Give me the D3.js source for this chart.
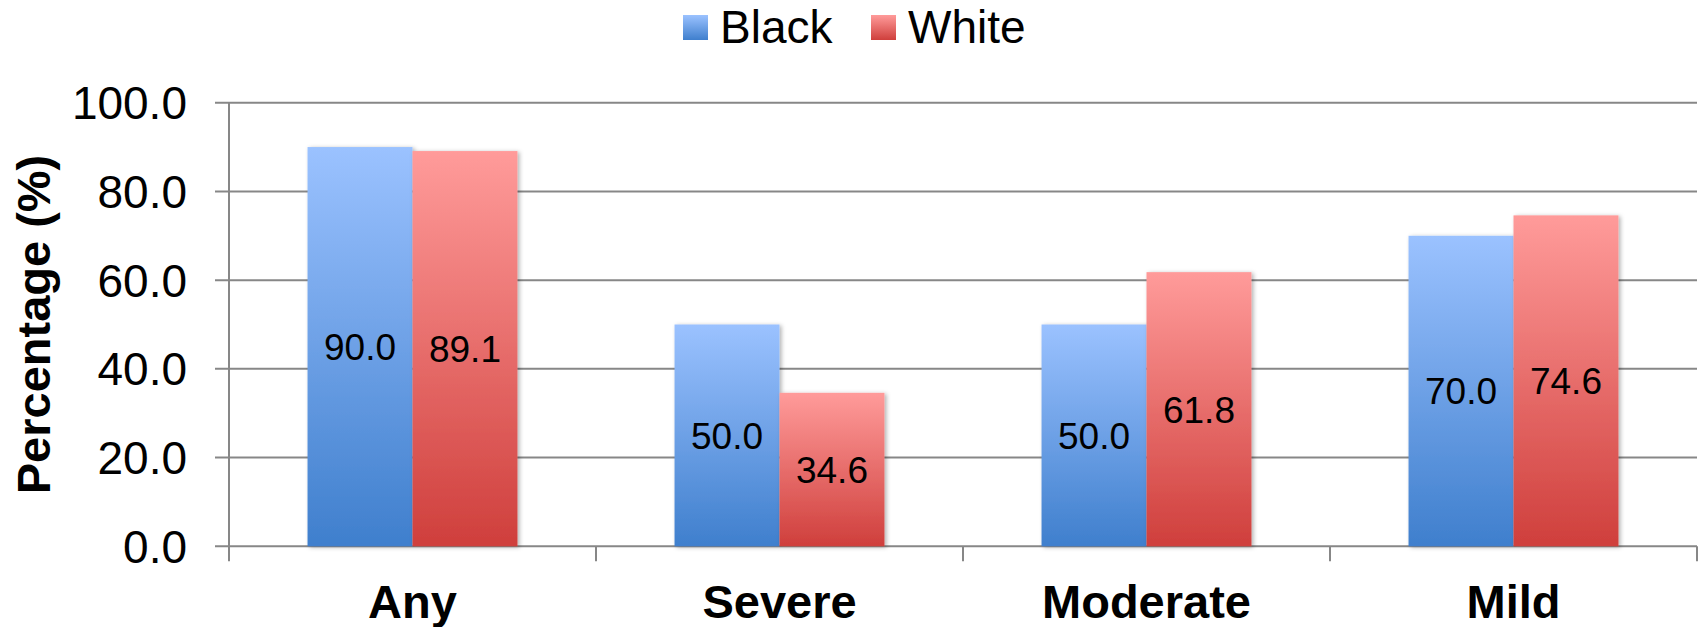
<!DOCTYPE html>
<html>
<head>
<meta charset="utf-8">
<script src="https://cdn.jsdelivr.net/npm/d3@7"></script>
<style>
  html, body { margin: 0; padding: 0; background: #fff; }
  svg { display: block; font-family: "Liberation Sans", Arial, Helvetica, sans-serif; }
</style>
</head>
<body>
<svg id="chart" width="1702" height="627"></svg>
<script>
// Share of cases by severity, by race
const categories = ["Any", "Severe", "Moderate", "Mild"];
const seriesNames = ["Black", "White"];
const blackValues = [90.0, 50.0, 50.0, 70.0];
const whiteValues = [89.1, 34.6, 61.8, 74.6];
const yTicks = [0, 20, 40, 60, 80, 100];

const series = [
  { name: seriesNames[0], values: blackValues, top: "#9bc2ff", bottom: "#3f7fcd", id: "gBlack" },
  { name: seriesNames[1], values: whiteValues, top: "#ff9b9a", bottom: "#cf3f3c", id: "gWhite" }
];

const svg = d3.select("#chart");
const margin = { left: 229, right: 5 };
const W = 1702, H = 627;

const x = d3.scaleBand().domain(categories).range([margin.left, W - margin.right]).paddingInner(0).paddingOuter(0);
const groupW = x.bandwidth() * 0.572;
const xs = d3.scaleBand().domain(seriesNames).range([0, groupW]).padding(0);
const y = d3.scaleLinear().domain([0, 100]).range([546.3, 102.7]);

const defs = svg.append("defs");
series.forEach(s => {
  const g = defs.append("linearGradient").attr("id", s.id)
    .attr("x1", 0).attr("y1", 0).attr("x2", 0).attr("y2", 1);
  g.append("stop").attr("offset", "0%").attr("stop-color", s.top);
  g.append("stop").attr("offset", "100%").attr("stop-color", s.bottom);
});
const f = defs.append("filter").attr("id", "shadow")
  .attr("x", "-10%").attr("y", "-10%").attr("width", "130%").attr("height", "120%");
f.append("feDropShadow").attr("dx", 2).attr("dy", 1).attr("stdDeviation", 2.2)
  .attr("flood-color", "#000").attr("flood-opacity", 0.3);

// Gridlines
const gridColor = "#878787";
svg.append("g").selectAll("line").data(yTicks).join("line")
  .attr("x1", margin.left - 14).attr("x2", W - margin.right)
  .attr("y1", d => y(d)).attr("y2", d => y(d))
  .attr("stroke", gridColor).attr("stroke-width", 2);

// Y axis line
svg.append("line")
  .attr("x1", margin.left).attr("x2", margin.left)
  .attr("y1", y(100)).attr("y2", y(0) + 15)
  .attr("stroke", gridColor).attr("stroke-width", 2);

// Category separator ticks
const sepX = categories.map(c => x(c)).concat([x(categories[categories.length - 1]) + x.bandwidth()]);
svg.append("g").selectAll("line").data(sepX.slice(1)).join("line")
  .attr("x1", d => d).attr("x2", d => d)
  .attr("y1", y(0)).attr("y2", y(0) + 15)
  .attr("stroke", gridColor).attr("stroke-width", 2);

// Y tick labels
svg.append("g").selectAll("text").data(yTicks).join("text")
  .attr("x", 187).attr("y", d => y(d)).attr("dy", "0.36em")
  .attr("text-anchor", "end").attr("font-size", 46).attr("fill", "#000")
  .text(d => d.toFixed(1));

// Y axis title
svg.append("text")
  .attr("transform", `translate(50,${(y(0) + y(100)) / 2}) rotate(-90)`)
  .attr("text-anchor", "middle").attr("font-size", 47).attr("font-weight", "bold")
  .text("Percentage (%)");

// Bars
const groups = svg.append("g").selectAll("g").data(categories).join("g")
  .attr("transform", c => `translate(${x(c) + (x.bandwidth() - groupW) / 2},0)`);

series.forEach((s) => {
  groups.append("rect")
    .attr("x", xs(s.name))
    .attr("width", xs.bandwidth())
    .attr("y", (c, i) => y(s.values[i]))
    .attr("height", (c, i) => y(0) - y(s.values[i]))
    .attr("fill", `url(#${s.id})`)
    .attr("filter", "url(#shadow)");
});

// Value labels
series.forEach((s) => {
  groups.append("text")
    .attr("x", xs(s.name) + xs.bandwidth() / 2)
    .attr("y", (c, i) => (y(s.values[i]) + y(0)) / 2)
    .attr("dy", "0.36em")
    .attr("text-anchor", "middle").attr("font-size", 37).attr("fill", "#000")
    .text((c, i) => s.values[i].toFixed(1));
});

// Category labels
svg.append("g").selectAll("text").data(categories).join("text")
  .attr("x", c => x(c) + x.bandwidth() / 2).attr("y", 618)
  .attr("text-anchor", "middle").attr("font-size", 47).attr("font-weight", "bold")
  .text(c => c);

// Legend
const legendX = [683, 871];
const legend = svg.append("g").selectAll("g").data(series).join("g")
  .attr("transform", (d, i) => `translate(${legendX[i]},15)`);
legend.append("rect").attr("width", 25).attr("height", 25)
  .attr("fill", d => `url(#${d.id})`);
legend.append("text").attr("x", 37).attr("y", 28)
  .attr("font-size", 46).attr("fill", "#000")
  .text(d => d.name);
</script>
</body>
</html>
